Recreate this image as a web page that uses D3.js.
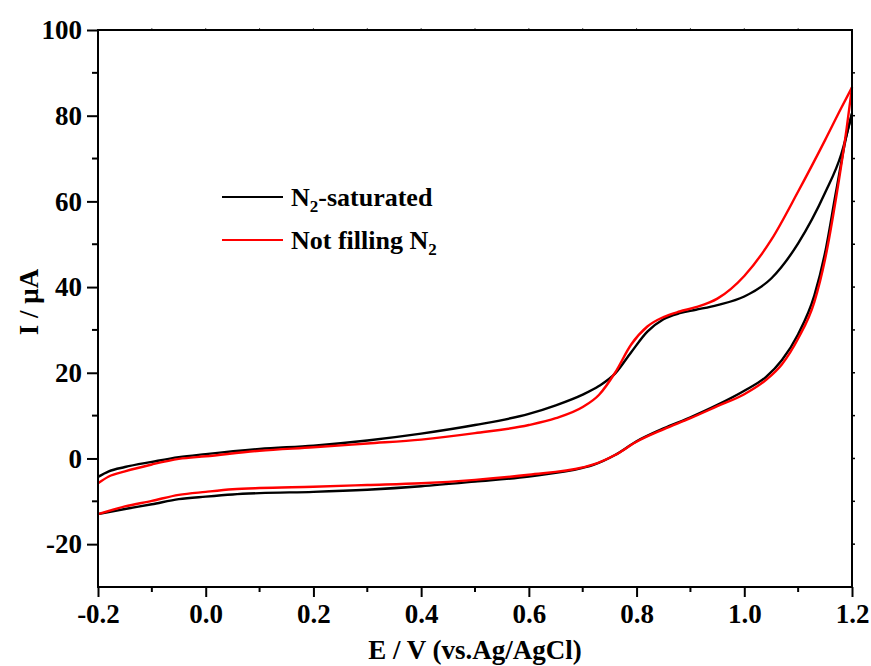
<!DOCTYPE html>
<html>
<head>
<meta charset="utf-8">
<script src="https://cdn.jsdelivr.net/npm/d3@7/dist/d3.min.js"></script>
<style>
  html, body { margin: 0; padding: 0; background: #fff; }
  svg { display: block; }
  text { font-family: "Liberation Serif", "Times New Roman", serif; font-weight: bold; fill: #000; }
</style>
</head>
<body>
<svg id="chart" width="871" height="666"></svg>
<script>
// ---- Data ----
const forwardPotential = [-0.2, -0.18, -0.15, -0.1, -0.05, 0, 0.1, 0.2, 0.3, 0.4, 0.5, 0.6, 0.65, 0.7, 0.73, 0.76, 0.79, 0.82, 0.85, 0.88, 0.91, 0.95, 1.0, 1.05, 1.1, 1.15, 1.18, 1.2];
const blackForward = [-4.3, -3.0, -2.0, -0.8, 0.3, 1.0, 2.2, 3.0, 4.2, 5.8, 7.8, 10.4, 12.4, 14.9, 16.9, 19.8, 24.8, 29.6, 32.5, 33.9, 34.7, 35.8, 37.8, 42.0, 50.2, 62.0, 71.0, 80.5];
const redForward   = [-5.8, -4.2, -3.0, -1.4, -0.1, 0.5, 1.8, 2.6, 3.5, 4.4, 5.9, 7.8, 9.4, 12.0, 14.8, 20.0, 26.6, 30.8, 33.0, 34.3, 35.3, 37.3, 42.6, 51.0, 62.3, 74.3, 81.8, 86.6];

const reversePotential = [1.2, 1.19, 1.17, 1.15, 1.13, 1.1, 1.07, 1.04, 1.0, 0.95, 0.9, 0.85, 0.8, 0.76, 0.72, 0.7, 0.6, 0.5, 0.4, 0.3, 0.2, 0.1, 0.05, 0, -0.05, -0.1, -0.15, -0.2];
const blackReverse = [80.5, 75.5, 62.0, 48.0, 38.0, 29.0, 23.0, 19.0, 15.8, 12.5, 9.6, 7.0, 4.0, 0.8, -1.5, -2.2, -4.2, -5.4, -6.5, -7.3, -7.8, -8.1, -8.4, -8.9, -9.5, -10.7, -11.8, -13.0];
const redReverse   = [86.6, 77.0, 60.5, 46.5, 36.5, 28.0, 22.0, 18.3, 15.0, 12.2, 9.4, 6.8, 3.9, 0.8, -1.4, -2.1, -3.8, -5.0, -5.8, -6.2, -6.6, -6.9, -7.2, -7.8, -8.5, -9.9, -11.2, -13.0];

const xTicks = [-0.2, 0.0, 0.2, 0.4, 0.6, 0.8, 1.0, 1.2];
const yTicks = [-20, 0, 20, 40, 60, 80, 100];
const seriesColors = ["#000000", "#ff0000"];

// ---- Layout ----
const svg = d3.select("#chart");
const mLeft = 98, mRight = 852, mTop = 30, mBottom = 587;

const x = d3.scaleLinear().domain([-0.2, 1.2]).range([mLeft, mRight]);
const y = d3.scaleLinear().domain([-30, 100]).range([mBottom, mTop]);

const fontSize = 27;

const line = d3.line()
  .x(d => x(d[0]))
  .y(d => y(d[1]))
  .curve(d3.curveMonotoneX);

const series = [
  { color: seriesColors[0], fwd: blackForward, rev: blackReverse },
  { color: seriesColors[1], fwd: redForward, rev: redReverse }
];

const g = svg.append("g");
series.forEach(s => {
  const fwdPts = forwardPotential.map((e, i) => [e, s.fwd[i]]);
  const revPts = reversePotential.map((e, i) => [e, s.rev[i]]).sort((a, b) => a[0] - b[0]);
  [fwdPts, revPts].forEach(pts => {
    g.append("path")
      .datum(pts)
      .attr("d", line)
      .attr("fill", "none").attr("stroke", s.color).attr("stroke-width", 2.4)
      .attr("stroke-linejoin", "round");
  });
});

// axes
const fmtX = d => d3.format(".1f")(d).replace("−", "-");
const fmtY = d => d3.format("d")(d).replace("−", "-");
const xAxis = d3.axisBottom(x).tickValues(xTicks).tickSize(10).tickPadding(10).tickFormat(fmtX);
const yAxis = d3.axisLeft(y).tickValues(yTicks).tickSize(11).tickPadding(6).tickFormat(fmtY);

const gx = svg.append("g").attr("transform", `translate(0,${mBottom})`).call(xAxis);
const gy = svg.append("g").attr("transform", `translate(${mLeft},0)`).call(yAxis);

[gx, gy].forEach(ax => {
  ax.select(".domain").remove();
  ax.selectAll(".tick line").attr("stroke", "#000").attr("stroke-width", 2);
  ax.selectAll(".tick text")
    .style("font-family", '"Liberation Serif", "Times New Roman", serif')
    .style("font-weight", "bold")
    .style("font-size", fontSize + "px")
    .attr("fill", "#000");
});
gx.selectAll(".tick text").attr("dy", "0.71em").attr("y", 17);
gy.selectAll(".tick text").attr("x", -16);

// minor ticks
svg.append("g").selectAll("line").data(d3.range(-0.1, 1.2, 0.2)).join("line")
  .attr("x1", d => x(d)).attr("x2", d => x(d))
  .attr("y1", mBottom).attr("y2", mBottom + 5)
  .attr("stroke", "#000").attr("stroke-width", 2);
svg.append("g").selectAll("line").data(d3.range(-10, 100, 20)).join("line")
  .attr("x1", mLeft - 6).attr("x2", mLeft)
  .attr("y1", d => y(d)).attr("y2", d => y(d))
  .attr("stroke", "#000").attr("stroke-width", 2);
// small ticks on right and top
svg.append("g").selectAll("line").data(d3.range(-20, 100, 10)).join("line")
  .attr("x1", mRight).attr("x2", mRight + 3)
  .attr("y1", d => y(d)).attr("y2", d => y(d))
  .attr("stroke", "#000").attr("stroke-width", 1.5);
svg.append("g").selectAll("line").data(d3.range(-0.1, 1.2, 0.1)).join("line")
  .attr("x1", d => x(d)).attr("x2", d => x(d))
  .attr("y1", mTop).attr("y2", mTop - 2)
  .attr("stroke", "#555").attr("stroke-width", 1);

// frame
svg.append("rect")
  .attr("x", mLeft).attr("y", mTop)
  .attr("width", mRight - mLeft).attr("height", mBottom - mTop)
  .attr("fill", "none").attr("stroke", "#000").attr("stroke-width", 2);

// axis titles
svg.append("text")
  .attr("x", 475).attr("y", 659)
  .attr("text-anchor", "middle")
  .style("font-size", fontSize + "px")
  .text("E / V (vs.Ag/AgCl)");

svg.append("text")
  .attr("transform", "translate(38,302) rotate(-90)")
  .attr("text-anchor", "middle")
  .style("font-size", fontSize + "px")
  .text("I / μA");

// legend
const legend = svg.append("g");
const legendRows = [
  { y: 197, color: seriesColors[0], parts: [["N", false], ["2", true], ["-saturated", false]] },
  { y: 240, color: seriesColors[1], parts: [["Not filling N", false], ["2", true]] }
];
legendRows.forEach(r => {
  legend.append("line")
    .attr("x1", 222).attr("x2", 283).attr("y1", r.y).attr("y2", r.y)
    .attr("stroke", r.color).attr("stroke-width", 2);
  const t = legend.append("text")
    .attr("x", 291).attr("y", r.y + 9)
    .style("font-size", "26px");
  r.parts.forEach((p, i) => {
    const ts = t.append("tspan").text(p[0]);
    if (p[1]) ts.style("font-size", "17px").attr("dy", 6);
    else if (i > 0) ts.attr("dy", -6);
  });
});
</script>
</body>
</html>
